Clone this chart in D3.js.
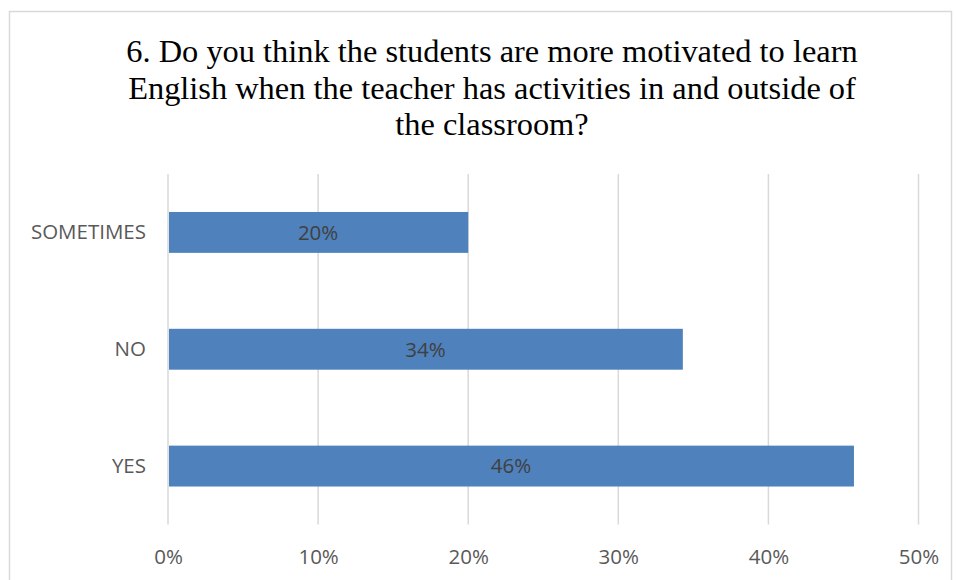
<!DOCTYPE html>
<html>
<head>
<meta charset="utf-8">
<script src="https://cdn.jsdelivr.net/npm/d3@7"></script>
<style>
  html, body { margin: 0; padding: 0; background: #fff; }
  svg { display: block; }
</style>
</head>
<body>
<svg id="chart" width="956" height="580"></svg>
<script>
// Survey answers and their shares (percent)
const categories = ["YES", "NO", "SOMETIMES"];
const values = [45.7, 34.3, 20];
const tickValues = [0, 10, 20, 30, 40, 50];
const titleLines = [
  "6. Do you think the students are more motivated to learn",
  "English when the teacher has activities in and outside of",
  "the classroom?"
];

const svg = d3.select("#chart");
const plot = { left: 168, right: 918.5, top: 174, bottom: 524.5 };
const sans = "'Open Sans', 'Noto Sans', sans-serif";
const labelSize = 20.5;

// chart frame
svg.append("rect")
  .attr("x", 9.5).attr("y", 11.5)
  .attr("width", 942).attr("height", 600)
  .attr("fill", "#fff")
  .attr("stroke", "#d9d9d9").attr("stroke-width", 1.5);

// title
svg.append("g").selectAll("text")
  .data(titleLines)
  .join("text")
  .attr("x", 492)
  .attr("y", (d, i) => 62 + i * 36.5)
  .attr("text-anchor", "middle")
  .attr("font-family", "'Liberation Serif', 'Times New Roman', serif")
  .attr("font-size", 32.4)
  .attr("fill", "#000")
  .text(d => d);

const x = d3.scaleLinear().domain([0, 50]).range([plot.left, plot.right]);
const y = d3.scaleBand()
  .domain(categories)
  .range([plot.bottom, plot.top])
  .paddingInner(0.65)
  .paddingOuter(0.325);

// vertical gridlines
svg.append("g").selectAll("line")
  .data(tickValues)
  .join("line")
  .attr("x1", d => x(d)).attr("x2", d => x(d))
  .attr("y1", plot.top).attr("y2", plot.bottom)
  .attr("stroke", "#d9d9d9").attr("stroke-width", 1.5);

// bars
svg.append("g").selectAll("rect")
  .data(categories.map((c, i) => ({ c, v: values[i] })))
  .join("rect")
  .attr("x", x(0) + 1)
  .attr("y", d => y(d.c))
  .attr("width", d => x(d.v) - x(0) - 1)
  .attr("height", y.bandwidth())
  .attr("fill", "#4f81bd");

// data labels
svg.append("g").selectAll("text")
  .data(categories.map((c, i) => ({ c, v: values[i] })))
  .join("text")
  .attr("x", d => (x(0) + x(d.v)) / 2)
  .attr("y", d => y(d.c) + y.bandwidth() / 2)
  .attr("dy", "0.36em")
  .attr("text-anchor", "middle")
  .attr("font-family", sans)
  .attr("font-size", labelSize)
  .attr("fill", "#404040")
  .text(d => Math.round(d.v) + "%");

// bottom axis
const xAxis = d3.axisBottom(x)
  .tickValues(tickValues)
  .tickFormat(d => d + "%")
  .tickSize(0)
  .tickPadding(25);
const gx = svg.append("g")
  .attr("transform", `translate(0,${plot.bottom})`)
  .call(xAxis);
gx.select(".domain").remove();
gx.selectAll("text")
  .attr("font-family", sans)
  .attr("font-size", labelSize)
  .attr("fill", "#595959");

// left axis
const yAxis = d3.axisLeft(y).tickSize(0).tickPadding(22);
const gy = svg.append("g")
  .attr("transform", `translate(${plot.left},0)`)
  .call(yAxis);
gy.select(".domain").remove();
gy.selectAll("text")
  .attr("font-family", sans)
  .attr("font-size", labelSize)
  .attr("fill", "#595959");
</script>
</body>
</html>
